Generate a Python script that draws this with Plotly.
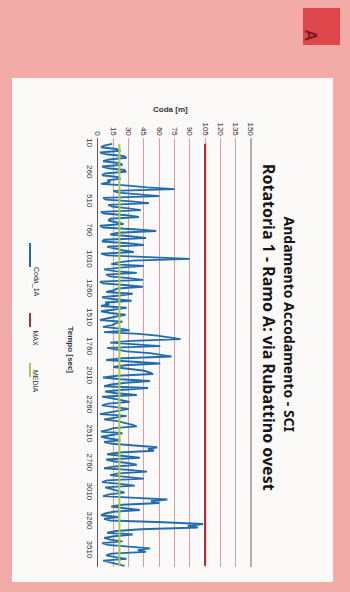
import plotly.graph_objects as go

# Coda_1A [m], from the start of the run (top) to the end (bottom)
coda_1a = [
    14, 6, 3, 18, 22, 2, 8, 25, 28, 11, 5, 20, 24, 4, 10, 26, 27, 7, 4, 19,
    22, 9, 12, 3, 30, 48, 75, 15, 20, 38, 60, 5, 8, 33, 50, 10, 14, 30, 42, 3,
    6, 28, 40, 12, 10, 18, 25, 2, 5, 35, 57, 20, 12, 31, 47, 6, 4, 29, 45, 9,
    16, 24, 35, 3, 9, 55, 90, 34, 20, 13, 45, 22, 6, 17, 38, 8, 12, 30, 44, 2,
    5, 26, 44, 19, 15, 8, 34, 21, 4, 14, 33, 7, 11, 3, 28, 16, 3, 12, 27, 18,
    9, 2, 24, 17, 14, 5, 22, 31, 6, 40, 58, 70, 81, 33, 12, 37, 61, 9, 20, 28,
    51, 63, 72, 24, 8, 35, 61, 26, 15, 29, 44, 50, 54, 19, 5, 22, 51, 27, 13, 6,
    49, 25, 7, 18, 38, 4, 16, 23, 31, 10, 4, 17, 30, 21, 12, 2, 28, 14, 6, 19,
    27, 33, 38, 15, 10, 3, 24, 13, 3, 11, 22, 6, 14, 36, 58, 49, 55, 21, 9, 25,
    41, 8, 15, 29, 38, 17, 6, 30, 48, 20, 12, 27, 45, 9, 4, 22, 36, 7, 14, 19,
    26, 11, 5, 37, 68, 52, 60, 24, 13, 26, 41, 15, 7, 3, 20, 6, 12, 64, 103, 88,
    98, 42, 18, 9, 34, 16, 6, 12, 24, 4, 10, 30, 51, 39, 47, 13, 8, 17, 28, 5,
    12, 20, 26,
]
# Tempo [sec]: one sample every 15 s starting at 10
tempo = [10 + 15 * i for i in range(len(coda_1a))]
MAX_CODA = 105
MEDIA_CODA = 21

coda_ticks = [0, 15, 30, 45, 60, 75, 90, 105, 120, 135, 150]
tempo_ticks = [10, 260, 510, 760, 1010, 1260, 1510, 1760, 2010, 2260, 2510, 2760, 3010, 3260, 3510]

W, H = 350, 592
BLUE = '#1f6db0'
RED = '#a8323c'
GREEN = '#b0c84e'
PINK = '#f3aba8'


def px(x):
    return x / W


def py(y):
    return 1 - y / H


fig = go.Figure()

# the chart was scanned rotated: queue length runs across, time runs downwards
fig.add_trace(go.Scatter(x=coda_1a, y=tempo, mode='lines', name='Coda_1A',
                         line=dict(color=BLUE, width=1.9)))
fig.add_trace(go.Scatter(x=[MAX_CODA] * len(tempo), y=tempo, mode='lines', name='MAX',
                         line=dict(color=RED, width=2.2)))
fig.add_trace(go.Scatter(x=[MEDIA_CODA] * len(tempo), y=tempo, mode='lines', name='MEDIA',
                         line=dict(color=GREEN, width=2)))

tick_font = dict(family='Liberation Sans', size=8, color='#2e2e2e')

fig.update_layout(
    width=W, height=H,
    margin=dict(l=0, r=0, t=0, b=0, autoexpand=False),
    paper_bgcolor=PINK,
    plot_bgcolor='#efdbe4',
    showlegend=False,
    xaxis=dict(domain=[px(98), px(251)], range=[0, 150], side='top', automargin=False,
               tickvals=coda_ticks, tickangle=90, tickfont=tick_font,
               showgrid=True, gridcolor='#d99aaa', gridwidth=1,
               zeroline=False, showline=False, ticks=''),
    yaxis=dict(domain=[py(567), py(138)], range=[3650, -40], automargin=False,
               tickvals=tempo_ticks, tickangle=90, tickfont=tick_font,
               showgrid=False, zeroline=False, showline=True,
               linecolor='#5a5a6a', linewidth=1, ticks=''),
)

shapes = [
    # white chart area on the pink page
    dict(type='rect', xref='paper', yref='paper', x0=px(12), x1=px(333), y0=py(582), y1=py(78),
         fillcolor='#fcf9f9', line=dict(width=0), layer='below'),
    # red "A" box
    dict(type='rect', xref='paper', yref='paper', x0=px(303), x1=px(340), y0=py(45), y1=py(8),
         fillcolor='#e0474c', line=dict(width=0)),
    # right border of the plot area
    dict(type='line', xref='paper', yref='paper', x0=px(251), x1=px(251), y0=py(567), y1=py(138),
         line=dict(color='#6a5a6a', width=1)),
]

# rotated legend: sample line + label, reading top to bottom
legend = [('Coda_1A', BLUE, 243, 267, 282), ('MAX', RED, 313, 327, 338), ('MEDIA', GREEN, 363, 377, 395)]
annotations = []
for name, col, y0, y1, ty in legend:
    shapes.append(dict(type='line', xref='paper', yref='paper', x0=px(30), x1=px(30),
                       y0=py(y1), y1=py(y0), line=dict(color=col, width=2)))
    annotations.append(dict(text=name, x=px(30), y=py(ty), xref='paper', yref='paper',
                            showarrow=False, textangle=90,
                            font=dict(family='Liberation Sans', size=7, color='#333')))

annotations += [
    dict(text='<b>Andamento Accodamento - SCI</b>', x=px(301), y=py(324), xref='paper', yref='paper',
         showarrow=False, textangle=90, font=dict(family='Noto Sans', size=14, color='#151515')),
    dict(text='<b>Rotatoria 1 - Ramo A: via Rubattino ovest</b>', x=px(282), y=py(327),
         xref='paper', yref='paper', showarrow=False, textangle=90,
         font=dict(family='Noto Sans', size=16, color='#151515')),
    dict(text='<b>Coda [m]</b>', x=px(170), y=py(103), xref='paper', yref='paper',
         showarrow=False, font=dict(family='Liberation Sans', size=8, color='#333')),
    dict(text='<b>Tempo [sec]</b>', x=px(64), y=py(350), xref='paper', yref='paper',
         showarrow=False, textangle=90, font=dict(family='Liberation Sans', size=8, color='#333')),
    dict(text='<b>A</b>', x=px(321), y=py(27), xref='paper', yref='paper',
         showarrow=False, textangle=90, font=dict(family='Liberation Sans', size=16, color='#7a1a20')),
]

fig.update_layout(shapes=shapes, annotations=annotations)

# the page's default body margin would push the figure 8 px right and down
fig.write_html("out.html", config={'displayModeBar': False},
               post_script="document.body.style.margin='0';document.body.style.background='%s';" % PINK)
